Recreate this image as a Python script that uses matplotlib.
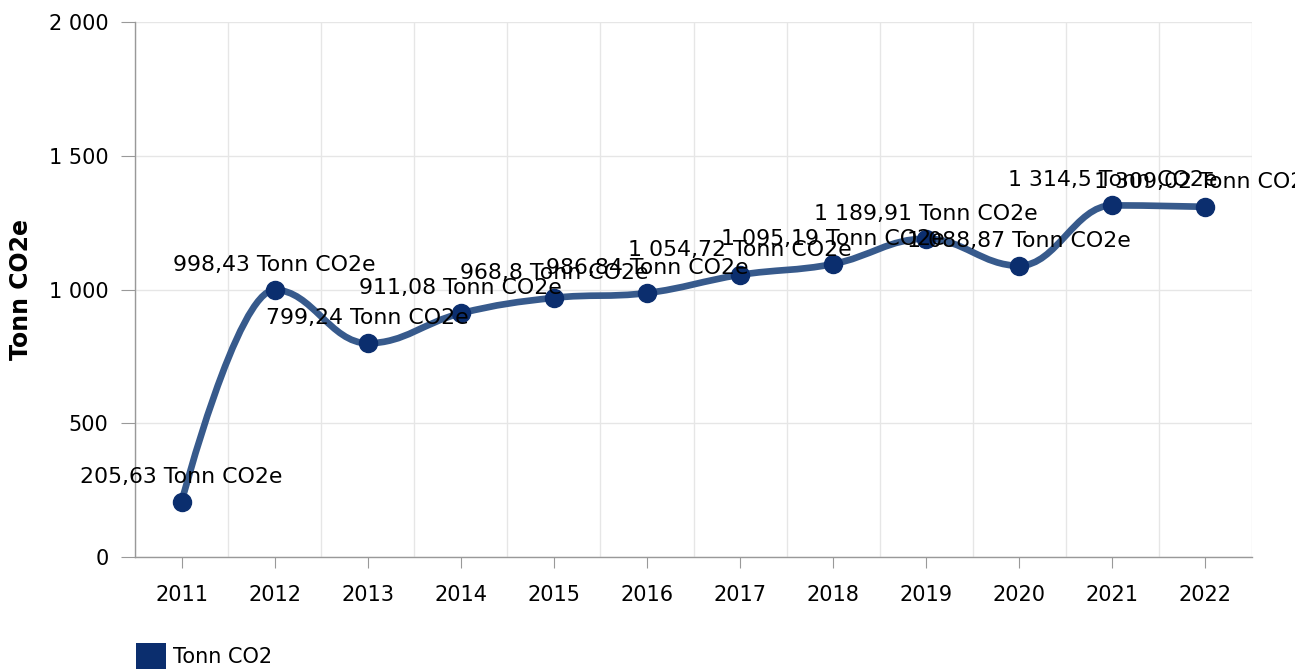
import numpy as np
import matplotlib
matplotlib.use("Agg")
import matplotlib.pyplot as plt
from matplotlib.path import Path
from matplotlib.patches import PathPatch, Rectangle
from matplotlib.ticker import FuncFormatter

years = ["2011", "2012", "2013", "2014", "2015", "2016",
         "2017", "2018", "2019", "2020", "2021", "2022"]
values = [205.63, 998.43, 799.24, 911.08, 968.8, 986.84,
          1054.72, 1095.19, 1189.91, 1088.87, 1314.5, 1309.02]
unit = "Tonn CO2e"
series_name = "Tonn CO2"

line_color = "#375a8c"
marker_color = "#0b2e6e"


def fmt_num(v):
    s = f"{v:,.2f}".rstrip("0").rstrip(".")
    return s.replace(",", " ").replace(".", ",")


def spline_path(xs, ys, smoothing=1.5):
    # highcharts style spline
    n = len(xs)
    denom = smoothing + 1
    right = [None] * n
    verts = [(xs[0], ys[0])]
    codes = [Path.MOVETO]
    for i in range(1, n):
        px, py = xs[i], ys[i]
        lcx, lcy = px, py
        if i < n - 1:
            lx, ly = xs[i - 1], ys[i - 1]
            nx, ny = xs[i + 1], ys[i + 1]
            lcx = (smoothing * px + lx) / denom
            lcy = (smoothing * py + ly) / denom
            rcx = (smoothing * px + nx) / denom
            rcy = (smoothing * py + ny) / denom
            corr = (rcy - lcy) * (rcx - px) / (rcx - lcx) + py - rcy
            lcy += corr
            rcy += corr
            if lcy > ly and lcy > py:
                lcy = max(ly, py)
                rcy = 2 * py - lcy
            elif lcy < ly and lcy < py:
                lcy = min(ly, py)
                rcy = 2 * py - lcy
            if rcy > ny and rcy > py:
                rcy = max(ny, py)
                lcy = 2 * py - rcy
            elif rcy < ny and rcy < py:
                rcy = min(ny, py)
                lcy = 2 * py - rcy
            right[i] = (rcx, rcy)
        prev = right[i - 1] if right[i - 1] is not None else (xs[i - 1], ys[i - 1])
        verts += [prev, (lcx, lcy), (px, py)]
        codes += [Path.CURVE4] * 3
    return Path(verts, codes)


fig = plt.figure(figsize=(12.95, 6.69), dpi=100)
ax = fig.add_axes([135 / 1295, 112 / 669, 1117 / 1295, 535 / 669])

x = np.arange(len(years))
ax.add_patch(PathPatch(spline_path(list(x), values), fill=False,
                       edgecolor=line_color, lw=4.8, capstyle="round", zorder=3))
ax.plot(x, values, "o", color=marker_color, markersize=13, zorder=4)

for xi, v in zip(x, values):
    ax.annotate(f"{fmt_num(v)} {unit}", (xi, v), xytext=(0, 25),
                textcoords="offset pixels", ha="center", va="center",
                fontsize=15.8, color="#000000", annotation_clip=False, zorder=5)

ax.set_xlim(-0.5, len(years) - 0.5)
ax.set_ylim(0, 2000)
ax.set_yticks([0, 500, 1000, 1500, 2000])
ax.yaxis.set_major_formatter(FuncFormatter(lambda v, p: fmt_num(v)))
ax.set_xticks(x)
ax.set_xticklabels(years)
ax.set_xticks(np.arange(-0.5, len(years)), minor=True)

ax.grid(True, which="major", axis="y", color="#e6e6e6", lw=1)
ax.grid(True, which="minor", axis="x", color="#e6e6e6", lw=1)
ax.set_axisbelow(True)

for side in ["top", "right"]:
    ax.spines[side].set_visible(False)
for side in ["left", "bottom"]:
    ax.spines[side].set_color("#999999")
    ax.spines[side].set_linewidth(1)

ax.tick_params(axis="y", length=10, color="#999999", pad=9, labelsize=15)
ax.tick_params(axis="x", which="major", length=8, color="#999999", pad=12, labelsize=15)
ax.tick_params(axis="x", which="minor", length=0)

ax.set_ylabel(unit, fontsize=17, fontweight="bold")
ax.yaxis.set_label_coords(-102 / 1117, 0.5)

# legend
fig.patches.append(Rectangle((136 / 1295, 0), 30 / 1295, 26 / 669,
                             transform=fig.transFigure, facecolor=marker_color,
                             edgecolor="none"))
fig.text(173 / 1295, 12 / 669, series_name, fontsize=15, va="center", ha="left")

fig.savefig("out.png", dpi=100)
